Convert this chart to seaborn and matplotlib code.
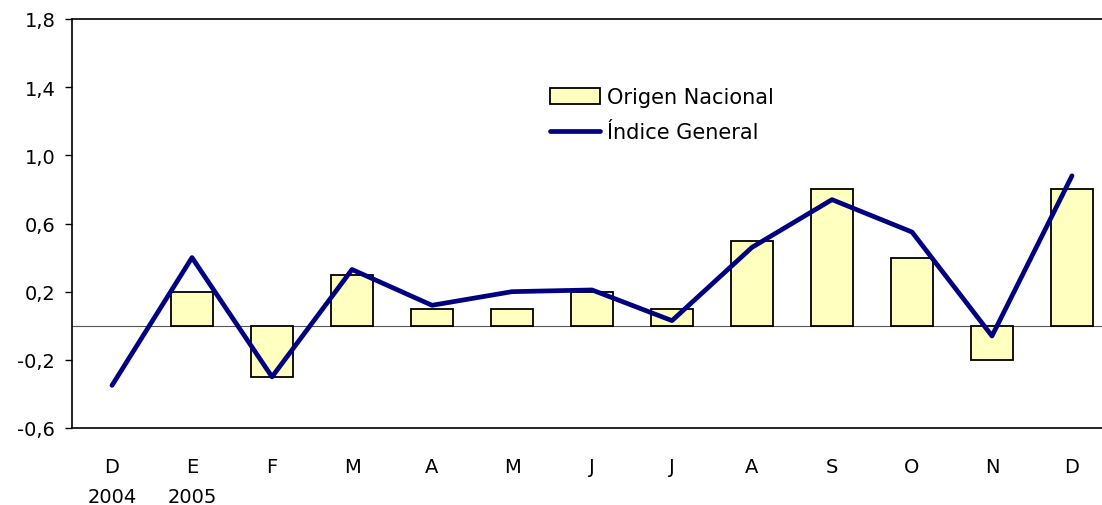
import matplotlib
matplotlib.use("Agg")
import matplotlib.pyplot as plt
import pandas as pd
import seaborn as sns

# months Dec 2004 .. Dec 2005
months = ["D\n2004", "E\n2005", "F", "M", "A", "M", "J", "J", "A", "S", "O", "N", "D"]
origen_nacional = [None, 0.2, -0.3, 0.3, 0.1, 0.1, 0.2, 0.1, 0.5, 0.8, 0.4, -0.2, 0.8]
indice_general = [-0.35, 0.4, -0.3, 0.33, 0.12, 0.2, 0.21, 0.03, 0.46, 0.74, 0.55, -0.06, 0.88]
y_ticks = [-0.6, -0.2, 0.2, 0.6, 1.0, 1.4, 1.8]

df = pd.DataFrame({
    "pos": range(len(months)),
    "Origen Nacional": pd.to_numeric(pd.Series(origen_nacional), errors="coerce"),
    "Índice General": indice_general,
})

sns.set_style("white")
plt.rcParams["font.family"] = ["DejaVu Sans"]
plt.rcParams["text.color"] = "black"
plt.rcParams["xtick.color"] = "black"
plt.rcParams["ytick.color"] = "black"

fig = plt.figure(figsize=(11.02, 5.06), dpi=100)
# plot area runs past the right edge of the picture, as in the source
ax = fig.add_axes([72 / 1102, 1 - 429 / 506, (1112 - 72) / 1102, (429 - 20) / 506])

sns.barplot(data=df, x="pos", y="Origen Nacional", ax=ax, color="#FFFFC0",
            edgecolor="black", linewidth=1.3, width=0.53, saturation=1,
            label="Origen Nacional", native_scale=True)
sns.lineplot(data=df, x="pos", y="Índice General", ax=ax, color="#000080",
             linewidth=3.4, label="Índice General")

ax.axhline(0, color="#555555", linewidth=0.8, zorder=0.5)
ax.set_xlim(-0.5, 12.5)
ax.set_ylim(-0.6, 1.8)
ax.set_yticks(y_ticks)
ax.set_yticklabels([f"{t:.1f}".replace(".", ",") for t in y_ticks], fontsize=14)
ax.set_xticks(range(len(months)))
ax.set_xticklabels(months, fontsize=14, linespacing=1.7)
ax.tick_params(axis="x", length=0, pad=21)
ax.tick_params(axis="y", length=5, width=1, direction="out", left=True, pad=7)
ax.set_xlabel("")
ax.set_ylabel("")
for side in ["left", "top", "bottom"]:
    ax.spines[side].set_color("black")
    ax.spines[side].set_linewidth(1.2)
ax.spines["right"].set_visible(False)

handles, labels = ax.get_legend_handles_labels()
order = [labels.index("Origen Nacional"), labels.index("Índice General")]
ax.legend([handles[i] for i in order], [labels[i] for i in order],
          loc="upper left", bbox_to_anchor=(0.442, 0.88), frameon=False,
          fontsize=15, handlelength=2.4, handleheight=0.8,
          handletextpad=0.3, labelspacing=0.75)

fig.savefig("out.png", dpi=100)
plt.close(fig)
